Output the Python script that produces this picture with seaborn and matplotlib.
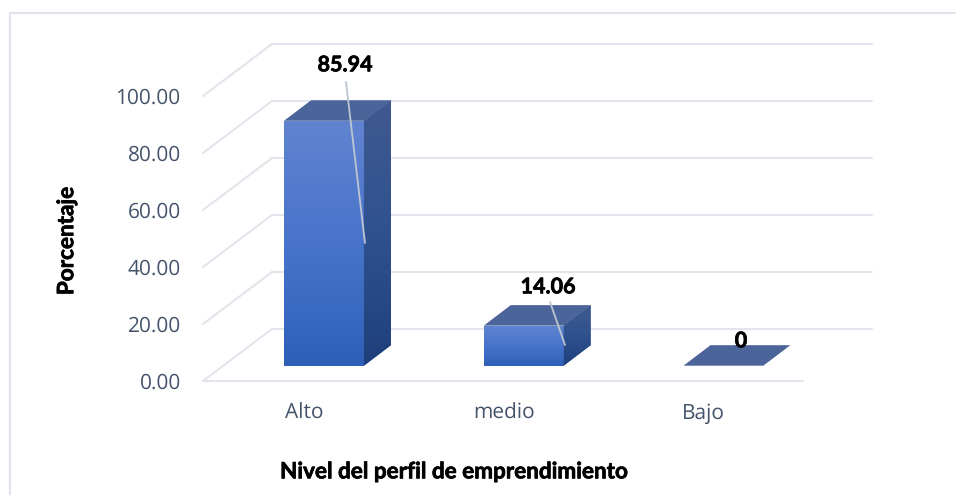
"""Barras 3D falsas: nivel del perfil de emprendimiento."""
import numpy as np
import matplotlib.pyplot as plt
import matplotlib.patheffects as pe
import seaborn as sns
from matplotlib.colors import LinearSegmentedColormap
from matplotlib.lines import Line2D

categorias = ["Alto", "medio", "Bajo"]
porcentajes = [85.94, 14.06, 0]
etiquetas = ["85.94", "14.06", "0"]
ticks_y = [0, 20, 40, 60, 80, 100]

# geometria en pixeles de la imagen
W, H = 956, 495
AX_L, AX_R, AX_T, AX_B = 203, 872, 44, 381
BASE_PX, PX_POR_UNIDAD = 365.7, 2.85
CENTRO_PX, PASO_PX = 324, 199.7

sns.set_theme(style="white")
plt.rcParams["text.hinting"] = "no_hinting"
fig = plt.figure(figsize=(W / 100, H / 100), dpi=100)
ax = fig.add_axes([AX_L / W, 1 - AX_B / H, (AX_R - AX_L) / W, (AX_B - AX_T) / H])

xlim = ((AX_L - CENTRO_PX) / PASO_PX, (AX_R - CENTRO_PX) / PASO_PX)
ylim = ((BASE_PX - AX_B) / PX_POR_UNIDAD, (BASE_PX - AX_T) / PX_POR_UNIDAD)
frente = ylim[0]
fondo = ylim[1] - 100
dx_pared = (272 - AX_L) / PASO_PX
x_fin_suelo = (803 - CENTRO_PX) / PASO_PX

# profundidad de cada barra
dx = 27 / PASO_PX
dy = 20.5 / PX_POR_UNIDAD

GRIS = "#e2e5eb"
for t in ticks_y:
    ax.plot([xlim[0] + dx_pared, xlim[1]], [fondo + t, fondo + t], color=GRIS, lw=1.5, zorder=0, clip_on=False)
    ax.plot([xlim[0], xlim[0] + dx_pared], [frente + t, fondo + t], color=GRIS, lw=1.5, zorder=0, clip_on=False)
ax.plot([xlim[0], x_fin_suelo], [frente, frente], color=GRIS, lw=1.5, zorder=0, clip_on=False)

sns.barplot(x=categorias, y=porcentajes, ax=ax, width=0.4, color="#3f6fc6", saturation=1, zorder=3, linewidth=0)

cm_frente = LinearSegmentedColormap.from_list("frente", ["#6184d0", "#4874cb", "#2e60b8"])
cm_lado = LinearSegmentedColormap.from_list("lado", ["#41598f", "#2f528f", "#1e3f7b"])
grad = np.linspace(0, 1, 256).reshape(-1, 1)

for barra, valor in zip(list(ax.patches), porcentajes):
    x0 = barra.get_x()
    x1 = x0 + barra.get_width()
    # cara superior
    ax.fill([x0, x1, x1 + dx, x0 + dx], [valor, valor, valor + dy, valor + dy],
            color="#4b6499", lw=0, zorder=4)
    if valor <= 0:
        continue
    # cara frontal con degradado
    im = ax.imshow(grad, cmap=cm_frente, extent=[x0, x1, 0, valor], aspect="auto", zorder=4)
    im.set_clip_path(barra)
    # cara lateral
    lado = ax.fill([x1, x1 + dx, x1 + dx, x1], [0, dy, valor + dy, valor], color="#34548f", lw=0, zorder=4)[0]
    im = ax.imshow(grad, cmap=cm_lado, extent=[x1, x1 + dx, 0, valor + dy], aspect="auto", zorder=5)
    im.set_clip_path(lado)

ax.set_xlim(*xlim)
ax.set_ylim(*ylim)

# lineas guia de las etiquetas
guias = [((346, 82), (365, 243)), ((550, 302), (565, 345))]
for (xa, ya), (xb, yb) in guias:
    ax.plot([(xa - CENTRO_PX) / PASO_PX, (xb - CENTRO_PX) / PASO_PX],
            [(BASE_PX - ya) / PX_POR_UNIDAD, (BASE_PX - yb) / PX_POR_UNIDAD],
            color="#bcc5d1", lw=1.3, zorder=6)

# trazo fino para engordar la negrita de Lato
grueso = [pe.withStroke(linewidth=0.5, foreground="black")]

pos_etiquetas = [(345, 65), (548, 287), (741, 341)]
for texto, (xp, yp) in zip(etiquetas, pos_etiquetas):
    ax.text((xp - CENTRO_PX) / PASO_PX, (BASE_PX - yp) / PX_POR_UNIDAD, texto,
            ha="center", va="center", fontsize=15.5, fontweight="bold", family="Lato", color="black",
            zorder=7, path_effects=grueso)

ax.set_yticks([frente + t for t in ticks_y])
ax.set_yticklabels([f"{t:.2f}" for t in ticks_y], family="Open Sans", fontsize=15, color="#44546a")
ax.set_xticks([i - 20 / PASO_PX for i in range(3)])
ax.set_xticklabels(categorias, family="Open Sans", fontsize=15, color="#44546a")
ax.tick_params(axis="both", length=0)
ax.tick_params(axis="y", pad=16)
ax.tick_params(axis="x", pad=16)
ax.set_xlabel("")
ax.set_ylabel("")
sns.despine(ax=ax, left=True, bottom=True, top=True, right=True)

fig.text(454 / W, 1 - 472 / H, "Nivel del perfil de emprendimiento", ha="center", va="center",
         fontsize=16.2, fontweight="bold", family="Lato", color="black", path_effects=grueso)
fig.text(67 / W, 1 - 241 / H, "Porcentaje", ha="center", va="center", rotation=90,
         fontsize=16.2, fontweight="bold", family="Lato", color="black", path_effects=grueso)

# marco exterior
fig.add_artist(Line2D([10 / W, 10 / W], [0, 1 - 13 / H], color="#dfe4ec", lw=1.5))
fig.add_artist(Line2D([10 / W, 1], [1 - 13 / H, 1 - 13 / H], color="#dfe4ec", lw=1.5))

fig.savefig("out.png", dpi=100)
